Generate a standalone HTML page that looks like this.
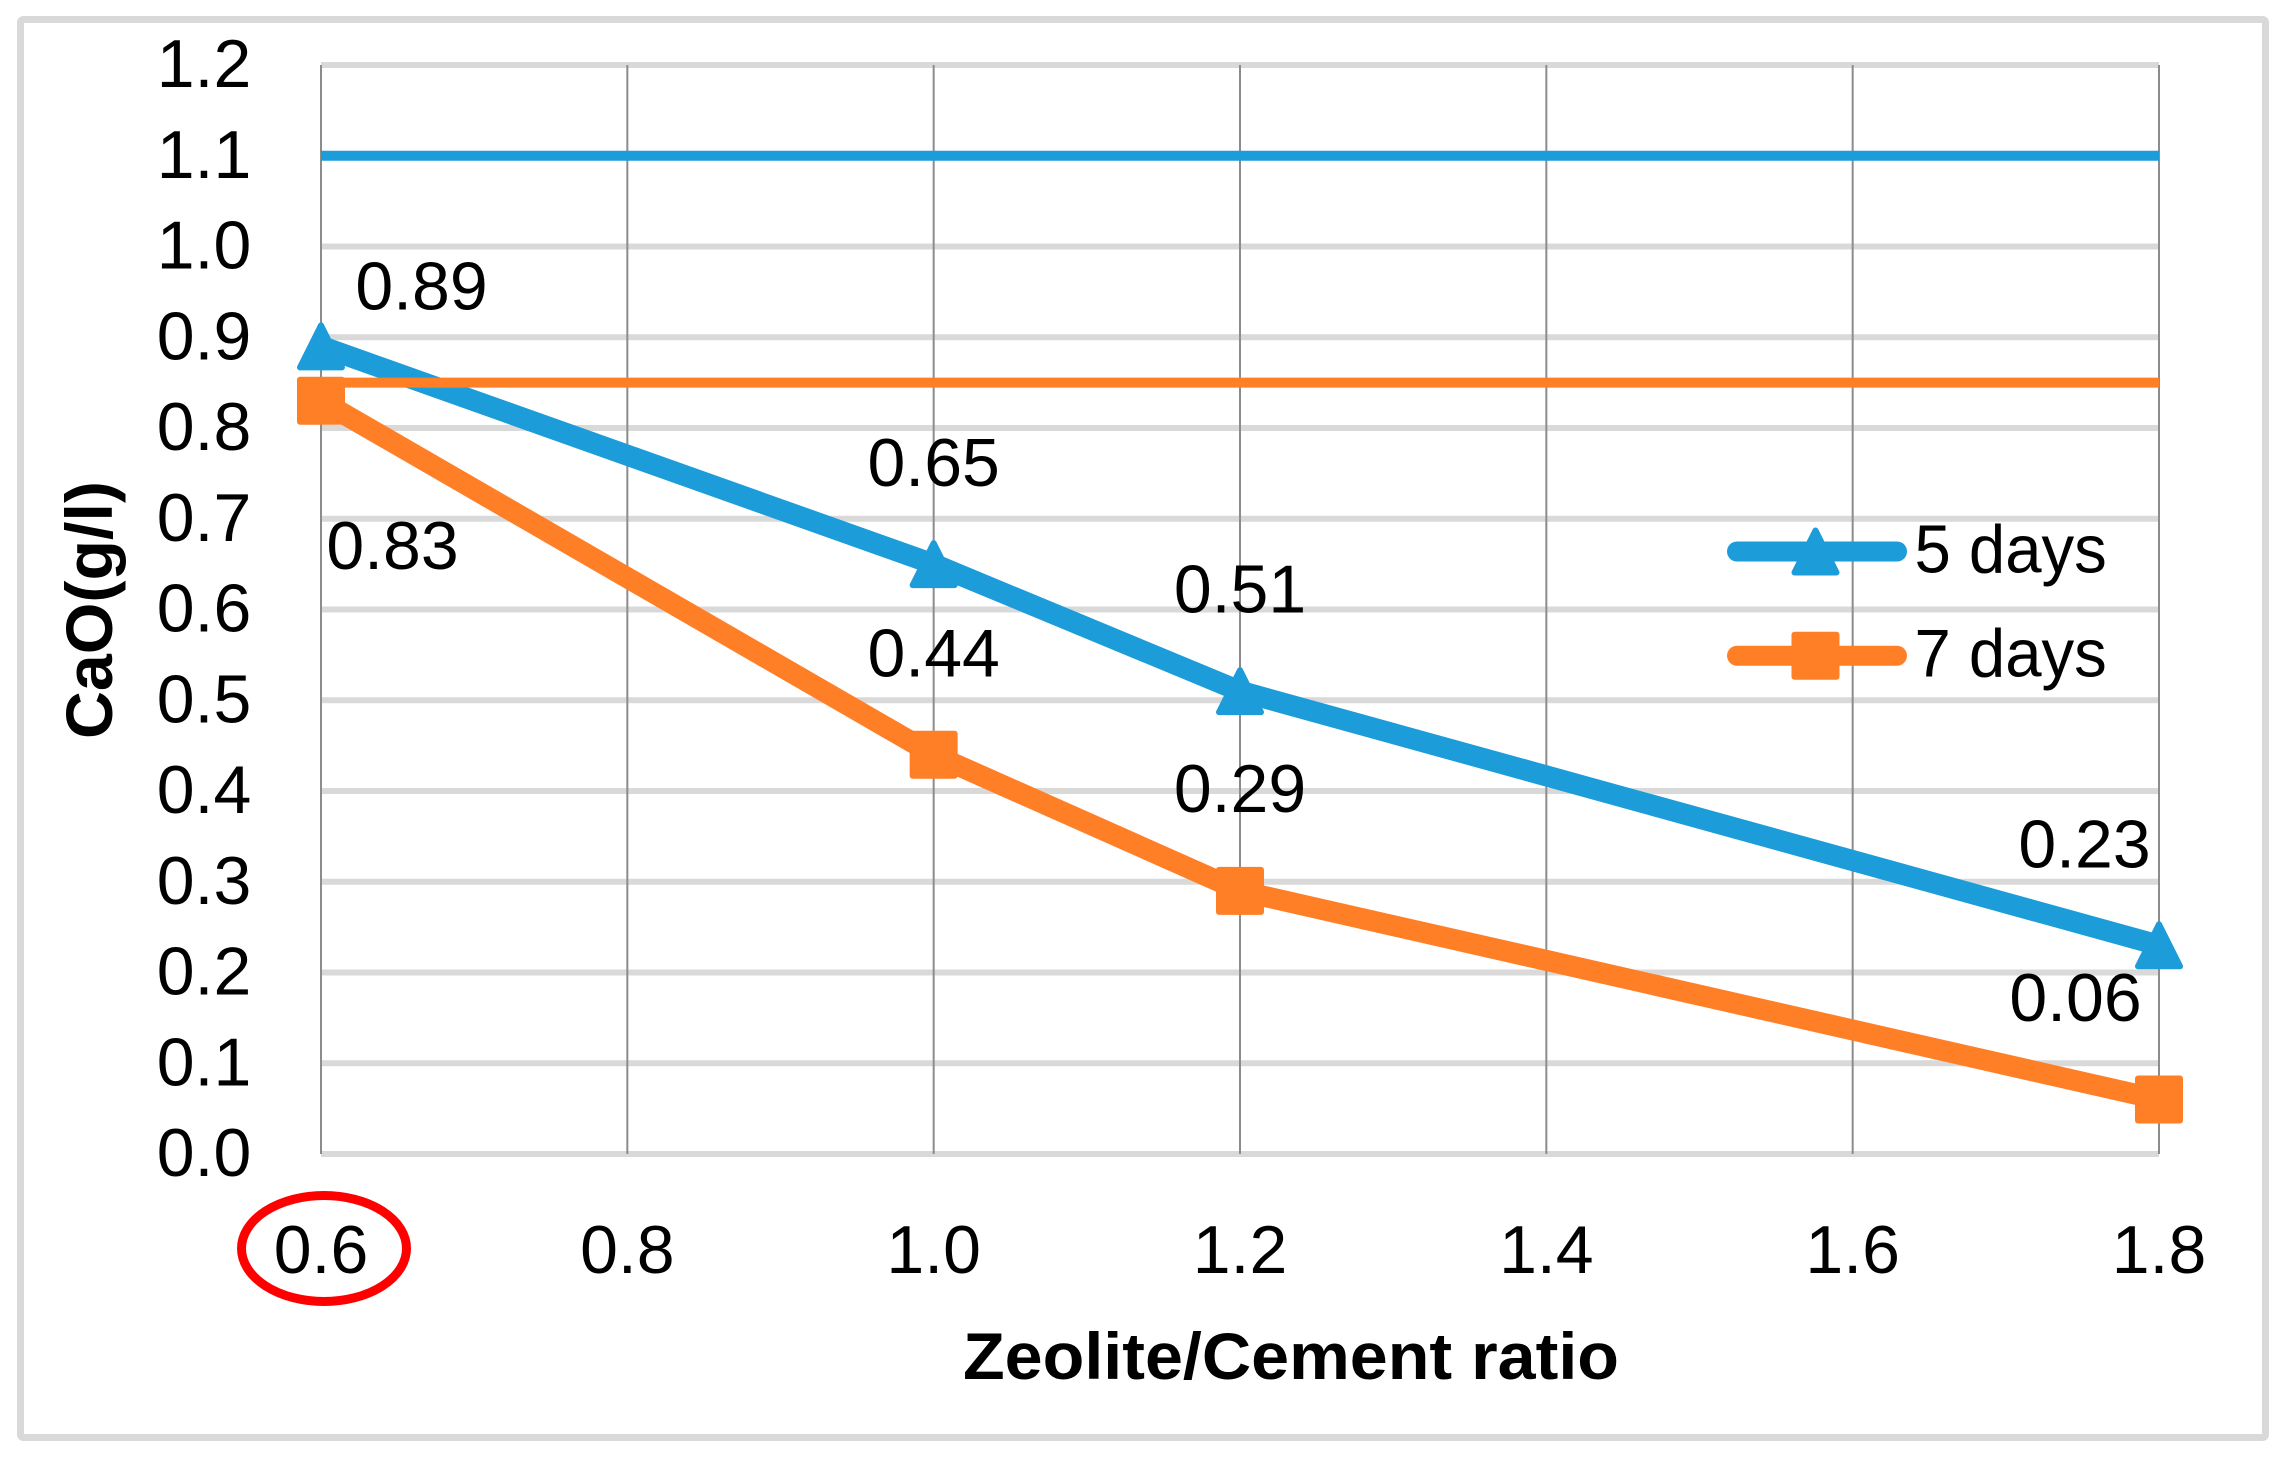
<!DOCTYPE html>
<html>
<head>
<meta charset="utf-8">
<title>CaO vs Zeolite/Cement ratio</title>
<style>
html,body{margin:0;padding:0;background:#fff;}
svg{display:block;}
text{font-family:"Liberation Sans",sans-serif;fill:#000;}
</style>
</head>
<body>
<svg id="chart" xmlns="http://www.w3.org/2000/svg" width="2287" height="1460" viewBox="0 0 2287 1460">
  <rect x="20.5" y="19.5" width="2245" height="1418" rx="3" fill="#fff" stroke="#d9d9d9" stroke-width="7"/>
  <g id="grid-h"></g>
  <g id="grid-v"></g>
  <g id="ref-lines"></g>
  <g id="series"></g>
  <g id="y-ticks"></g>
  <g id="x-ticks"></g>
  <g id="labels"></g>
  <g id="legend"></g>
  <ellipse cx="324" cy="1248.5" rx="82.5" ry="53" fill="none" stroke="#ff0000" stroke-width="9"/>
  <text transform="translate(112,739) rotate(-90)" font-size="66" font-weight="700" textLength="258" lengthAdjust="spacingAndGlyphs">CaO(g/l)</text>
  <text x="963" y="1379" font-size="66" font-weight="700" textLength="656" lengthAdjust="spacingAndGlyphs">Zeolite/Cement ratio</text>
</svg>
<script>
const yTickValues = [0, 0.1, 0.2, 0.3, 0.4, 0.5, 0.6, 0.7, 0.8, 0.9, 1.0, 1.1, 1.2];
const xTickValues = [0.6, 0.8, 1.0, 1.2, 1.4, 1.6, 1.8];
const ratios = [0.6, 1.0, 1.2, 1.8];
const fiveDays = [0.89, 0.65, 0.51, 0.23];
const sevenDays = [0.83, 0.44, 0.29, 0.06];
const fiveDaysLimit = 1.1;
const sevenDaysLimit = 0.85;

const BLUE = '#1c9cd9', ORANGE = '#ff7f27', GRID = '#d9d9d9', VGRID = '#8c8c8c';
const NS = 'http://www.w3.org/2000/svg';
const plot = {left: 321, right: 2159, top: 65, bottom: 1154};
const xMin = 0.6, xMax = 1.8, yMin = 0, yMax = 1.2;
function xScale(v) { return plot.left + (v - xMin) / (xMax - xMin) * (plot.right - plot.left); }
function yScale(v) { return plot.bottom - (v - yMin) / (yMax - yMin) * (plot.bottom - plot.top); }
function make(tag, attrs, parent, txt) {
  const el = document.createElementNS(NS, tag);
  for (const k in attrs) el.setAttribute(k, attrs[k]);
  if (txt !== undefined) el.textContent = txt;
  parent.appendChild(el);
  return el;
}
const $ = id => document.getElementById(id);

yTickValues.forEach(v => {
  const g = make('line', {x1: plot.left, x2: plot.right, y1: yScale(v), y2: yScale(v), stroke: GRID, 'stroke-width': 6}, $('grid-h'));
  
  
  const t = make('text', {x: 204, y: yScale(v) + 22, 'font-size': 68, 'text-anchor': 'middle'}, $('y-ticks'), v.toFixed(1));
  
  
});
xTickValues.forEach(v => {
  const g = make('line', {x1: xScale(v), x2: xScale(v), y1: plot.top, y2: plot.bottom, stroke: VGRID, 'stroke-width': 2}, $('grid-v'));
  
  
  const t = make('text', {x: xScale(v), y: 1273, 'font-size': 68, 'text-anchor': 'middle'}, $('x-ticks'), v.toFixed(1));
  
  
});

const limitBlue = make('line', {x1: plot.left, x2: plot.right, y1: yScale(fiveDaysLimit), y2: yScale(fiveDaysLimit), stroke: BLUE, 'stroke-width': 10}, $('ref-lines'));



function triangle(cx, cy, parent) {
  const s = 21;
  const el = make('polygon', {points: (cx) + ',' + (cy - s) + ' ' + (cx + s) + ',' + (cy + s) + ' ' + (cx - s) + ',' + (cy + s), fill: BLUE, stroke: BLUE, 'stroke-width': 6, 'stroke-linejoin': 'round'}, parent);
  return el;
}
function square(cx, cy, parent) {
  const el = make('rect', {x: cx - 24, y: cy - 24, width: 48, height: 48, rx: 3, fill: ORANGE}, parent);
  return el;
}
function polyline(values, color, parent) {
  const pts = values.map((v, i) => xScale(ratios[i]) + ',' + yScale(v)).join(' ');
  return make('polyline', {points: pts, fill: 'none', stroke: color, 'stroke-width': 21, 'stroke-linejoin': 'round'}, parent);
}

const blueLine = polyline(fiveDays, BLUE, $('series'));


fiveDays.forEach((v, i) => {
  const m = triangle(xScale(ratios[i]), yScale(v), $('series'));
  
  
});
const limitOrange = make('line', {x1: plot.left, x2: plot.right, y1: yScale(sevenDaysLimit), y2: yScale(sevenDaysLimit), stroke: ORANGE, 'stroke-width': 10}, $('series'));


const orangeLine = polyline(sevenDays, ORANGE, $('series'));


sevenDays.forEach((v, i) => {
  const m = square(xScale(ratios[i]), yScale(v), $('series'));
  
  
});

const fiveDayLabelOffsets = [[100.5, -37], [0, -78], [0, -78.5], [-74.5, -78]];
const sevenDayLabelOffsets = [[71.5, 168], [0, -78], [0, -79], [-83.5, -78.5]];
function dataLabels(values, offsets, name) {
  values.forEach((v, i) => {
    const t = make('text', {x: xScale(ratios[i]) + offsets[i][0], y: yScale(v) + offsets[i][1], 'font-size': 68, 'text-anchor': 'middle'}, $('labels'), v.toFixed(2));
    
    
  });
}
dataLabels(fiveDays, fiveDayLabelOffsets, 'five-days-data-label');
dataLabels(sevenDays, sevenDayLabelOffsets, 'seven-days-data-label');

const lg = $('legend');
const l1 = make('line', {x1: 1737, x2: 1897, y1: 551.5, y2: 551.5, stroke: BLUE, 'stroke-width': 20, 'stroke-linecap': 'round'}, lg);


const lm1 = triangle(1815.5, 551.5, lg);


const lt1 = make('text', {transform: 'translate(1914.5,572.7) scale(0.96,1)', 'font-size': 68}, lg, '5 days');


const l2 = make('line', {x1: 1737, x2: 1897, y1: 655.7, y2: 655.7, stroke: ORANGE, 'stroke-width': 20, 'stroke-linecap': 'round'}, lg);


const lm2 = square(1815.5, 655.7, lg);


const lt2 = make('text', {transform: 'translate(1914.5,676.7) scale(0.96,1)', 'font-size': 68}, lg, '7 days');


</script>
</body>
</html>
